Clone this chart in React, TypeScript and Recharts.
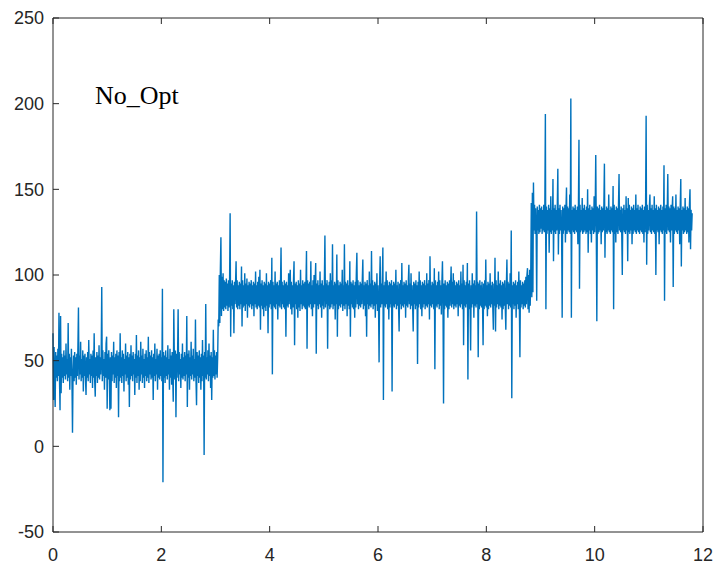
import { LineChart, Line, XAxis, YAxis } from "recharts";

// sampled signal, one array per operating level (sample spacing 0.01)
const sampleStep = 0.01;
const segStarts = [0, 3.05, 8.83];

const segA = [
  66, 27, 58, 36, 23, 55, 40, 53, 38, 57, 41, 78, 39, 21, 76, 31, 54, 40, 52, 37,
  56, 41, 53, 39, 60, 42, 51, 38, 72, 40, 54, 33, 52, 41, 57, 39, 8, 42, 53, 38,
  55, 40, 52, 36, 54, 41, 58, 81, 39, 53, 42, 61, 38, 51, 40, 56, 32, 53, 41, 54,
  39, 30, 52, 40, 55, 38, 62, 42, 51, 37, 54, 41, 53, 34, 56, 40, 66, 38, 29, 52,
  41, 55, 37, 53, 40, 59, 39, 52, 42, 54, 93, 38, 56, 41, 51, 33, 55, 40, 60, 64,
  22, 54, 39, 56, 41, 21, 52, 22, 55, 38, 53, 42, 61, 37, 52, 40, 54, 34, 56, 41,
  53, 17, 55, 38, 66, 40, 52, 37, 56, 41, 54, 32, 51, 42, 60, 38, 53, 40, 55, 36,
  52, 23, 54, 39, 59, 41, 53, 38, 55, 42, 51, 30, 54, 40, 65, 37, 53, 41, 56, 33,
  52, 38, 61, 42, 53, 37, 57, 40, 51, 34, 54, 41, 56, 38, 52, 40, 64, 37, 55, 42,
  53, 39, 56, 40, 52, 27, 54, 41, 60, 38, 51, 42, 57, 33, 53, 40, 54, 39, 56, 41,
  52, 38, 92, -21, 55, 40, 53, 37, 56, 41, 52, 39, 59, 42, 51, 33, 57, 40, 53, 36,
  55, 41, 26, 80, 52, 39, 56, 17, 54, 40, 53, 80, 38, 55, 42, 51, 34, 54, 40, 60,
  39, 52, 41, 55, 38, 53, 42, 76, 23, 54, 40, 56, 33, 52, 41, 61, 39, 53, 42, 57,
  38, 51, 40, 74, 39, 24, 55, 41, 53, 37, 56, 40, 52, 33, 54, 38, 62, 41, 53, -5,
  55, 40, 83, 39, 52, 42, 56, 38, 60, 41, 53, 34, 55, 27, 52, 40, 68, 41, 56, 39,
  53, 42, 55, 40, 52,
];

const segB = [
  74, 70, 100, 72, 104, 122, 76, 99, 80, 101, 79, 97, 81, 96, 80, 98, 82, 95, 79, 97,
  81, 96, 136, 64, 95, 82, 97, 80, 94, 66, 96, 83, 95, 108, 81, 97, 80, 94, 82, 96,
  80, 95, 83, 105, 70, 97, 81, 94, 82, 101, 79, 95, 83, 98, 75, 94, 82, 96, 81, 95,
  83, 97, 80, 94, 82, 96, 76, 95, 83, 102, 81, 94, 80, 96, 82, 99, 81, 103, 68, 95,
  82, 97, 80, 94, 76, 96, 81, 95, 79, 101, 82, 94, 66, 96, 81, 95, 83, 97, 80, 110,
  42, 96, 82, 94, 81, 102, 80, 95, 83, 96, 74, 94, 82, 97, 81, 95, 116, 80, 96, 83,
  94, 81, 97, 80, 95, 64, 96, 82, 94, 81, 101, 83, 95, 103, 80, 96, 77, 94, 81, 97,
  108, 59, 95, 83, 96, 80, 94, 75, 97, 81, 95, 79, 103, 83, 94, 80, 97, 82, 95, 81,
  96, 80, 94, 114, 57, 97, 82, 95, 81, 96, 83, 108, 80, 94, 76, 97, 81, 100, 83, 96,
  107, 54, 95, 82, 97, 80, 94, 83, 102, 81, 95, 75, 97, 82, 94, 80, 96, 123, 81, 95,
  83, 97, 57, 94, 82, 96, 80, 101, 81, 97, 83, 118, 80, 94, 82, 96, 74, 95, 83, 112,
  64, 97, 80, 94, 82, 96, 81, 95, 83, 103, 79, 94, 82, 118, 80, 96, 83, 95, 76, 97,
  82, 94, 80, 108, 64, 96, 83, 95, 81, 97, 80, 94, 75, 96, 81, 101, 113, 83, 97, 80,
  94, 82, 96, 81, 95, 83, 97, 109, 80, 94, 82, 96, 76, 95, 64, 97, 83, 94, 80, 102,
  82, 95, 81, 114, 83, 97, 80, 94, 82, 96, 75, 95, 83, 101, 79, 94, 82, 49, 96, 111,
  81, 95, 83, 97, 116, 27, 94, 82, 96, 81, 102, 83, 97, 80, 94, 74, 96, 81, 95, 83,
  97, 32, 94, 82, 96, 81, 95, 83, 103, 80, 94, 82, 96, 81, 67, 95, 83, 97, 80, 107,
  82, 94, 81, 96, 83, 95, 75, 97, 82, 94, 81, 96, 106, 83, 95, 80, 101, 82, 94, 81,
  67, 96, 83, 95, 80, 97, 82, 94, 48, 96, 81, 102, 83, 97, 80, 94, 76, 96, 81, 95,
  83, 97, 80, 94, 82, 101, 81, 95, 83, 97, 74, 111, 82, 94, 81, 96, 83, 95, 80, 104,
  45, 97, 82, 94, 81, 96, 83, 102, 80, 97, 82, 94, 77, 96, 108, 83, 25, 95, 80, 97,
  82, 94, 81, 96, 75, 95, 80, 97, 82, 94, 105, 81, 96, 83, 101, 80, 97, 82, 94, 81,
  96, 83, 95, 76, 97, 82, 94, 81, 102, 83, 95, 80, 106, 59, 97, 82, 94, 81, 96, 83,
  107, 39, 95, 80, 97, 82, 56, 94, 81, 101, 83, 95, 75, 97, 82, 94, 81, 137, 83, 96,
  52, 95, 80, 97, 82, 94, 81, 96, 83, 59, 95, 80, 97, 82, 109, 81, 94, 76, 96, 80,
  95, 82, 101, 81, 94, 83, 96, 80, 68, 95, 82, 110, 67, 97, 81, 94, 83, 102, 80, 95,
  82, 97, 81, 94, 74, 96, 80, 95, 82, 97, 81, 68, 94, 109, 83, 96, 80, 95, 82, 101,
  81, 126, 28, 94, 83, 96, 80, 95, 82, 97, 75, 94, 83, 96, 80, 102, 82, 52, 97, 81,
  94, 83, 96, 80, 95, 82, 97, 81, 99, 83, 100, 104, 80, 100, 78, 103, 82, 101,
];

const segC = [
  142, 87, 148, 90, 154, 126, 141, 124, 139, 125, 85, 140, 126, 138, 124, 141, 125, 139, 127, 140,
  124, 138, 126, 141, 125, 139, 194, 80, 140, 124, 138, 126, 141, 113, 139, 125, 146, 124, 138, 126,
  156, 108, 139, 125, 141, 124, 138, 126, 140, 162, 112, 139, 124, 141, 126, 138, 125, 75, 140, 124,
  139, 126, 141, 119, 138, 151, 124, 140, 126, 139, 125, 147, 124, 203, 75, 138, 126, 140, 125, 139,
  124, 141, 126, 138, 125, 140, 118, 139, 179, 92, 141, 125, 138, 126, 145, 124, 139, 125, 141, 126,
  138, 124, 140, 125, 150, 113, 139, 126, 141, 124, 138, 119, 140, 126, 139, 124, 146, 125, 138, 170,
  126, 73, 140, 124, 139, 125, 141, 126, 138, 118, 140, 125, 139, 126, 141, 165, 110, 138, 125, 140,
  124, 139, 126, 147, 125, 138, 124, 140, 126, 139, 125, 152, 80, 141, 124, 138, 119, 140, 125, 139,
  124, 141, 159, 126, 138, 125, 140, 124, 100, 139, 126, 141, 125, 138, 124, 146, 126, 139, 108, 145,
  125, 141, 124, 138, 126, 140, 118, 139, 124, 141, 126, 138, 125, 147, 124, 139, 126, 141, 125, 138,
  124, 140, 126, 139, 125, 141, 124, 138, 119, 140, 125, 139, 193, 106, 141, 124, 138, 126, 140, 147,
  125, 139, 124, 141, 126, 138, 125, 146, 124, 139, 100, 141, 126, 138, 125, 140, 118, 139, 126, 141,
  125, 138, 124, 140, 126, 164, 85, 139, 125, 141, 124, 138, 159, 126, 140, 125, 139, 119, 141, 126,
  138, 146, 93, 140, 124, 139, 126, 147, 125, 138, 124, 140, 126, 139, 118, 141, 156, 105, 138, 126,
  140, 124, 139, 125, 145, 126, 138, 124, 140, 125, 139, 119, 141, 150, 115, 138, 126, 136,
];

const xTicks = [0, 2, 4, 6, 8, 10, 12];
const yTicks = [-50, 0, 50, 100, 150, 200, 250];

const samples = [segA, segB, segC].flatMap((seg, k) =>
  seg.map((v, i) => ({ t: Math.round((segStarts[k] + i * sampleStep) * 100) / 100, v }))
);

const axisColor = "#262626";
const tickStyle = { fill: axisColor, fontSize: 18, fontFamily: "'Liberation Sans', Arial, sans-serif" };

const App = () => {
  return (
    <div style={{ position: "absolute", left: 0, top: 0, width: 719, height: 565, background: "#fff" }}>
      <LineChart width={719} height={565} data={samples} margin={{ top: 0, right: 0, bottom: 0, left: 0 }}>
        <XAxis
          dataKey="t"
          type="number"
          domain={[0, 12]}
          ticks={xTicks}
          height={33}
          stroke={axisColor}
          tickSize={-6}
          tickMargin={22}
          tick={tickStyle}
        />
        <XAxis
          xAxisId="top"
          orientation="top"
          dataKey="t"
          type="number"
          domain={[0, 12]}
          ticks={xTicks}
          height={18}
          stroke={axisColor}
          tickSize={-6}
          tickFormatter={() => ""}
        />
        <YAxis
          type="number"
          domain={[-50, 250]}
          ticks={yTicks}
          width={53}
          stroke={axisColor}
          tickSize={-6}
          tickMargin={15}
          tick={tickStyle}
        />
        <YAxis
          yAxisId="right"
          orientation="right"
          type="number"
          domain={[-50, 250]}
          ticks={yTicks}
          width={16}
          stroke={axisColor}
          tickSize={-6}
          tickFormatter={() => ""}
        />
        <Line
          type="linear"
          dataKey="v"
          stroke="#0072BD"
          strokeWidth={1.4}
          dot={false}
          isAnimationActive={false}
        />
      </LineChart>
      <svg width={719} height={565} style={{ position: "absolute", left: 0, top: 0, pointerEvents: "none" }}>
        <text x={95} y={104} fontSize={26} fontFamily="'Liberation Serif', 'Times New Roman', serif" fill="#000">
          No_Opt
        </text>
      </svg>
    </div>
  );
};

export default App;
